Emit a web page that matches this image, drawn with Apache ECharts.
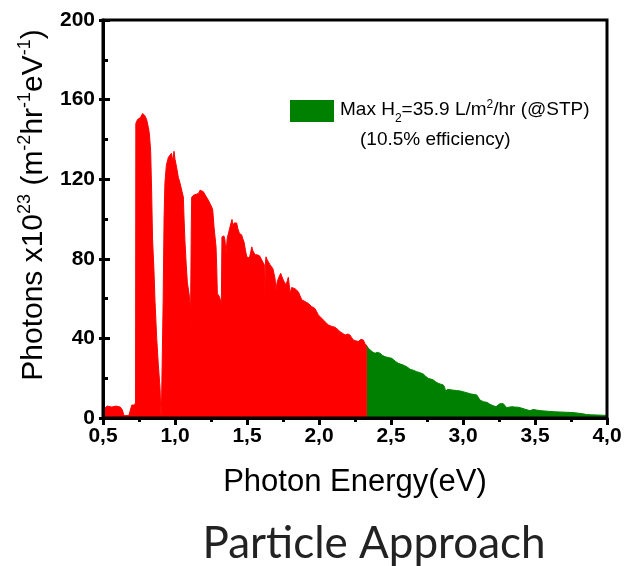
<!DOCTYPE html>
<html>
<head>
<meta charset="utf-8">
<script src="https://cdn.jsdelivr.net/npm/echarts@6/dist/echarts.min.js"></script>
<style>html,body{margin:0;padding:0;background:#fff}#c{width:625px;height:566px}</style>
</head>
<body>
<div id="c"></div>
<script>
// Red part of spectrum (used for H2 production), photon energy in eV
const redEnergy = [0.500,0.503,0.51,0.53,0.56,0.59,0.62,0.635,0.645,0.68,0.69,0.70,0.72,0.726,0.728,0.74,0.76,0.775,0.79,0.803,0.815,0.822,0.831,0.838,0.844,0.854,0.861,0.873,0.884,0.896,0.902,0.905,0.914,0.918,0.924,0.93,0.94,0.954,0.965,0.975,0.985,0.993,1.0,1.011,1.023,1.035,1.048,1.058,1.063,1.069,1.078,1.086,1.10,1.104,1.106,1.109,1.113,1.116,1.13,1.15,1.165,1.174,1.185,1.197,1.21,1.22,1.231,1.243,1.255,1.262,1.271,1.285,1.29,1.294,1.308,1.322,1.324,1.326,1.34,1.347,1.354,1.363,1.372,1.382,1.39,1.396,1.402,1.41,1.418,1.428,1.437,1.447,1.455,1.463,1.471,1.479,1.49,1.498,1.507,1.516,1.525,1.533,1.541,1.549,1.556,1.5625,1.57,1.579,1.587,1.595,1.605,1.613,1.62,1.624,1.627,1.632,1.64,1.648,1.66,1.671,1.68,1.6875,1.695,1.701,1.71,1.72,1.734,1.743,1.752,1.762,1.771,1.78,1.787,1.793,1.799,1.81,1.82,1.833,1.845,1.856,1.868,1.88,1.892,1.903,1.914,1.926,1.937,1.949,1.96,1.972,1.984,1.995,2.01,2.03,2.048,2.065,2.09,2.111,2.13,2.146,2.165,2.181,2.2,2.215,2.226,2.238,2.255,2.273,2.29,2.308,2.318,2.333];
const redPhotons = [1.5,4.5,5.5,6,5.5,6,5.5,4,1.2,1.2,4,6.5,6.5,8,148,150,151,153,152,150,146,143,134,113,90,74,59,40,27,15,2,0,0,60,100,118,127,131,130,133,129,134,130,126,121,118,114,111,100,89,77,68,61,58,43,60,95,111,112,112.5,113,114.5,114.6,113.7,112,111,109.5,108.7,106,104.5,96,86,75,62.6,61,57.6,57,91,91.5,89.4,82.7,90.5,93,96,97,99.8,96,98,97,98,95,92.8,93,92,90,88.6,84,81,80.5,80.4,83,86,84,83.6,82,81,82,82.7,81.5,81,79,78.6,77,60,77,81,79.5,78.6,77,76,75,74.4,70,64.3,68.5,70.5,72.7,71,69.3,68,66.8,69,70.7,67,62.6,65.6,66,65,64,63.5,61.5,59.4,59,58.5,58.3,57.6,57,56,55.5,55,53.4,51.8,50.8,49.2,48,46.7,46,45.6,44.5,43.4,42.5,41.7,42.2,41.7,40.5,39.2,38.8,38.4,39.5,39.2,37.5,36.2];
// Green part of spectrum
const greenEnergy = [2.333,2.343,2.354,2.37,2.389,2.405,2.424,2.44,2.458,2.48,2.505,2.53,2.55,2.5625,2.585,2.597,2.615,2.632,2.655,2.678,2.70,2.724,2.74,2.759,2.775,2.794,2.81,2.828,2.845,2.863,2.872,2.88,2.891,2.91,2.933,2.955,2.979,3.0,3.026,3.045,3.06,3.08,3.095,3.105,3.118,3.13,3.141,3.155,3.169,3.185,3.199,3.215,3.229,3.24,3.257,3.28,3.292,3.303,3.315,3.338,3.36,3.384,3.41,3.431,3.45,3.465,3.488,3.51,3.535,3.57,3.604,3.64,3.674,3.71,3.743,3.78,3.8125,3.84,3.859,3.89,3.928,3.96,4.0];
const greenPhotons = [36.2,35,34.2,33.3,32.5,33,32.5,31.5,30.8,30.4,30,28.5,27.5,27.1,26.6,26.6,25.5,24.5,24,23.3,22.8,22.1,21,19.9,19.6,19.1,18.2,17.4,17,16.6,15.5,13.2,14.4,14.2,14,13.8,13.6,13.2,12.7,12.3,12,11.8,11.6,10.5,9,8.6,8.2,8,7.8,7,6.5,6,5.7,6.5,7.2,7.2,6.5,5.2,5.4,5.7,5.5,5.4,4.9,4.4,4,3.7,4.3,4,3.7,3.5,3.3,3.1,3.0,2.9,2.8,2.6,2.3,2.0,1.7,1.6,1.5,1.4,1.3];

const xTicks = {min: 0.5, max: 4.0, interval: 0.5};
const yTicks = {min: 0, max: 200, interval: 40};

const zip = (a, b) => a.map((x, i) => [x, b[i]]);
const fmt = v => v.toFixed(1).replace('.', ',');
const FF = '"Liberation Sans", Arial, sans-serif';

const chart = echarts.init(document.getElementById('c'), null, {renderer: 'canvas'});
chart.setOption({
  animation: false,
  backgroundColor: '#fff',
  grid: {left: 103, right: 18, top: 20, bottom: 148, show: true, borderColor: '#000', borderWidth: 3, backgroundColor: 'transparent', z: 10},
  xAxis: {
    type: 'value', min: xTicks.min, max: xTicks.max, interval: xTicks.interval, z: 10,
    axisLine: {lineStyle: {color: '#000', width: 3}},
    axisTick: {show: true, inside: false, length: 7, lineStyle: {color: '#000', width: 3}},
    minorTick: {show: true, splitNumber: 2, length: 4, lineStyle: {color: '#000', width: 3}},
    splitLine: {show: false},
    axisLabel: {formatter: fmt, color: '#000', fontFamily: FF, fontWeight: 'bold', fontSize: 21, margin: 8},
    name: 'Photon Energy(eV)', nameLocation: 'middle', nameGap: 49,
    nameTextStyle: {fontFamily: FF, fontSize: 31, color: '#000'}
  },
  yAxis: [{
    type: 'value', min: yTicks.min, max: yTicks.max, interval: yTicks.interval, z: 10,
    axisLine: {lineStyle: {color: '#000', width: 3}},
    axisTick: {show: true, inside: true, length: 7, lineStyle: {color: '#000', width: 3}},
    minorTick: {show: true, splitNumber: 2, length: 5, lineStyle: {color: '#000', width: 3}},
    splitLine: {show: false},
    axisLabel: {color: '#000', fontFamily: FF, fontWeight: 'bold', fontSize: 21, margin: 8},
    name: '{a|Photons x10}{sup|23}{a| (m}{sup|-2}{a|hr}{sup|-1}{a|eV}{sup|-1}{a|)}',
    nameLocation: 'middle', nameGap: 50, nameRotate: 90,
    nameTextStyle: {color: '#000', padding: [0, 0, 0, 28], rich: {
      a: {fontFamily: FF, fontSize: 30, lineHeight: 36, color: '#000'},
      sup: {fontFamily: FF, fontSize: 18, lineHeight: 18, verticalAlign: 'top', color: '#000'}
    }}
  }, {
    type: 'value', position: 'left', offset: 0, min: yTicks.min, max: yTicks.max, interval: yTicks.interval, z: 10,
    axisLine: {show: false},
    axisTick: {show: true, inside: false, length: 4, lineStyle: {color: '#000', width: 3}},
    splitLine: {show: false},
    axisLabel: {show: false}
  }],
  series: [{
    type: 'line', data: zip(redEnergy, redPhotons), showSymbol: false, symbol: 'none',
    lineStyle: {color: '#ff0000', width: 1}, areaStyle: {color: '#ff0000', opacity: 1}, z: 2
  }, {
    type: 'line', data: zip(greenEnergy, greenPhotons), showSymbol: false, symbol: 'none',
    lineStyle: {color: '#008000', width: 1}, areaStyle: {color: '#008000', opacity: 1}, z: 2
  }],
  graphic: [
    {type: 'rect', shape: {x: 290, y: 100, width: 44, height: 22}, style: {fill: '#008000'}},
    {type: 'text', x: 340, y: 99, style: {
      text: '{a|Max H}{sub|2}{a|=35.9 L/m}{sup|2}{a|/hr (@STP)}',
      rich: {
        a: {fontFamily: FF, fontSize: 19, lineHeight: 22, fill: '#000'},
        sub: {fontFamily: FF, fontSize: 12, lineHeight: 12, verticalAlign: 'bottom', fill: '#000', padding: [0, 0, -4, 0]},
        sup: {fontFamily: FF, fontSize: 12, lineHeight: 12, verticalAlign: 'top', fill: '#000'}
      }
    }},
    {type: 'text', x: 360, y: 130, style: {text: '(10.5% efficiency)', font: '19px "Liberation Sans", Arial, sans-serif', fill: '#000'}},
    {type: 'text', x: 374, y: 544, style: {text: 'Particle Approach', font: '44px Lato, "Open Sans", sans-serif', fill: '#222', align: 'center', verticalAlign: 'middle'}}
  ]
});
</script>
</body>
</html>
